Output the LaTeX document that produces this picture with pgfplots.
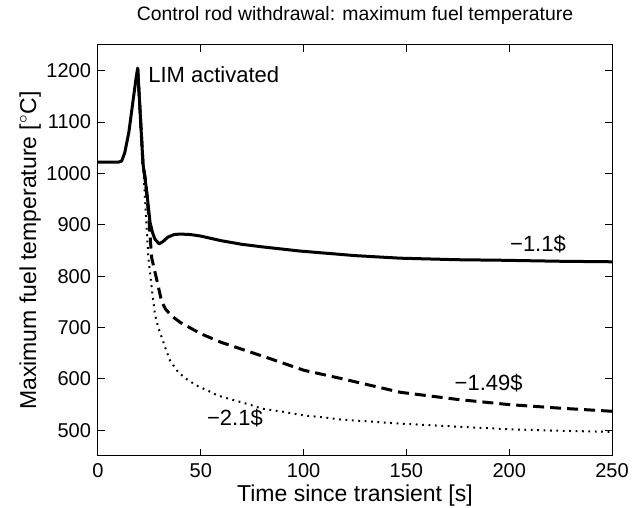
\documentclass[border=0pt]{standalone}
\usepackage{pgfplots}
\pgfplotsset{compat=1.18}
\usepackage{fontspec}
\setmainfont{Liberation Sans}
\begin{document}
\fontsize{10}{12}\selectfont
\begin{tikzpicture}
\begin{axis}[
  scale only axis,
  width=257pt, height=205.5pt,
  xmin=0, xmax=250, ymin=450, ymax=1250,
  xtick={0,50,100,150,200,250},
  ytick={500,600,700,800,900,1000,1100,1200},
  tick align=inside,
  major tick length=3.5pt,
  axis line style={line width=0.5pt},
  every tick/.style={black, line width=0.5pt},
  /pgf/number format/assume math mode=true,
  /pgf/number format/1000 sep={},
  tick label style={font=\fontsize{10}{12}\selectfont},
  title={Control rod withdrawal: maximum fuel temperature},
  title style={at={(axis description cs:0.5,1)}, anchor=base, yshift=6pt, font=\fontsize{9.7}{12}\selectfont},
  xlabel={Time since transient [s]},
  xlabel style={at={(axis description cs:0.5,0)}, anchor=base, yshift=-23pt, font=\fontsize{11.5}{13}\selectfont},
  ylabel={Maximum fuel temperature [$^{\circ}$C]},
  ylabel style={at={(axis description cs:-0.132,0.5)}, anchor=center, font=\fontsize{11.5}{13}\selectfont},
  clip=true,
]
\addplot[black, line width=1.5pt, line join=round] coordinates {
(0,1022)(5,1022)(10,1022)(11.5,1024)(13,1040)(15,1080)(17,1140)(18.5,1185)(19.3,1205)
(20.4,1126)(21.9,1018)(23.7,965)(25.3,905)(26.5,885)(27.7,872)(29.7,863)(31.5,867)
(34,876)(37,881)(40,882)(45,881)(50,878)(60,869)(70,862)(80,857)(98,849)(125,840)
(147,835)(175,832)(196,831)(225,829)(250,828)};
\addplot[black, line width=1.5pt, dash pattern=on 5.5pt off 3pt] coordinates {
(19.3,1205)(20.4,1126)(21.9,1018)(23,990)(24.5,925)(26.1,836)(28.7,791)(31,750)(33,735)
(36,722)(40,710)(45,699)(50,688)(60,671)(67.5,661)(84,639)(100,617)(118,601)(147,574)
(175,560)(200,550)(225,543)(250,537)};
\addplot[black, line width=1pt, dash pattern=on 0.9pt off 2.3pt] coordinates {
(19.3,1205)(20.4,1126)(21.9,1018)(23.3,920)(24.5,836)(26.3,771)(27.7,726)(29.3,700)
(31,681)(32.6,662)(35,636)(39,613)(43,600)(48,587)(53,578)(58,568)(64,561)(72,552)
(80,542)(90,536)(100,529)(110,525)(118,521)(147,513)(175,507)(200,502)(225,499)(250,497)};
\node[anchor=west, inner sep=0pt, font=\fontsize{11}{13}\selectfont] at (axis cs:24.3,1192) {LIM activated};
\node[inner sep=0pt, font=\fontsize{11}{13}\selectfont] at (axis cs:214,863) {−1.1\$};
\node[inner sep=0pt, font=\fontsize{11}{13}\selectfont] at (axis cs:190,591) {−1.49\$};
\node[inner sep=0pt, font=\fontsize{11}{13}\selectfont] at (axis cs:66.6,523) {−2.1\$};
\end{axis}
\pgfresetboundingbox
\path (current axis.south west) ++(-49pt,-26pt) coordinate (bbA);
\path (current axis.north east) ++(10pt,22.5pt) coordinate (bbB);
\path[use as bounding box] (bbA) rectangle (bbB);
\end{tikzpicture}
\end{document}
